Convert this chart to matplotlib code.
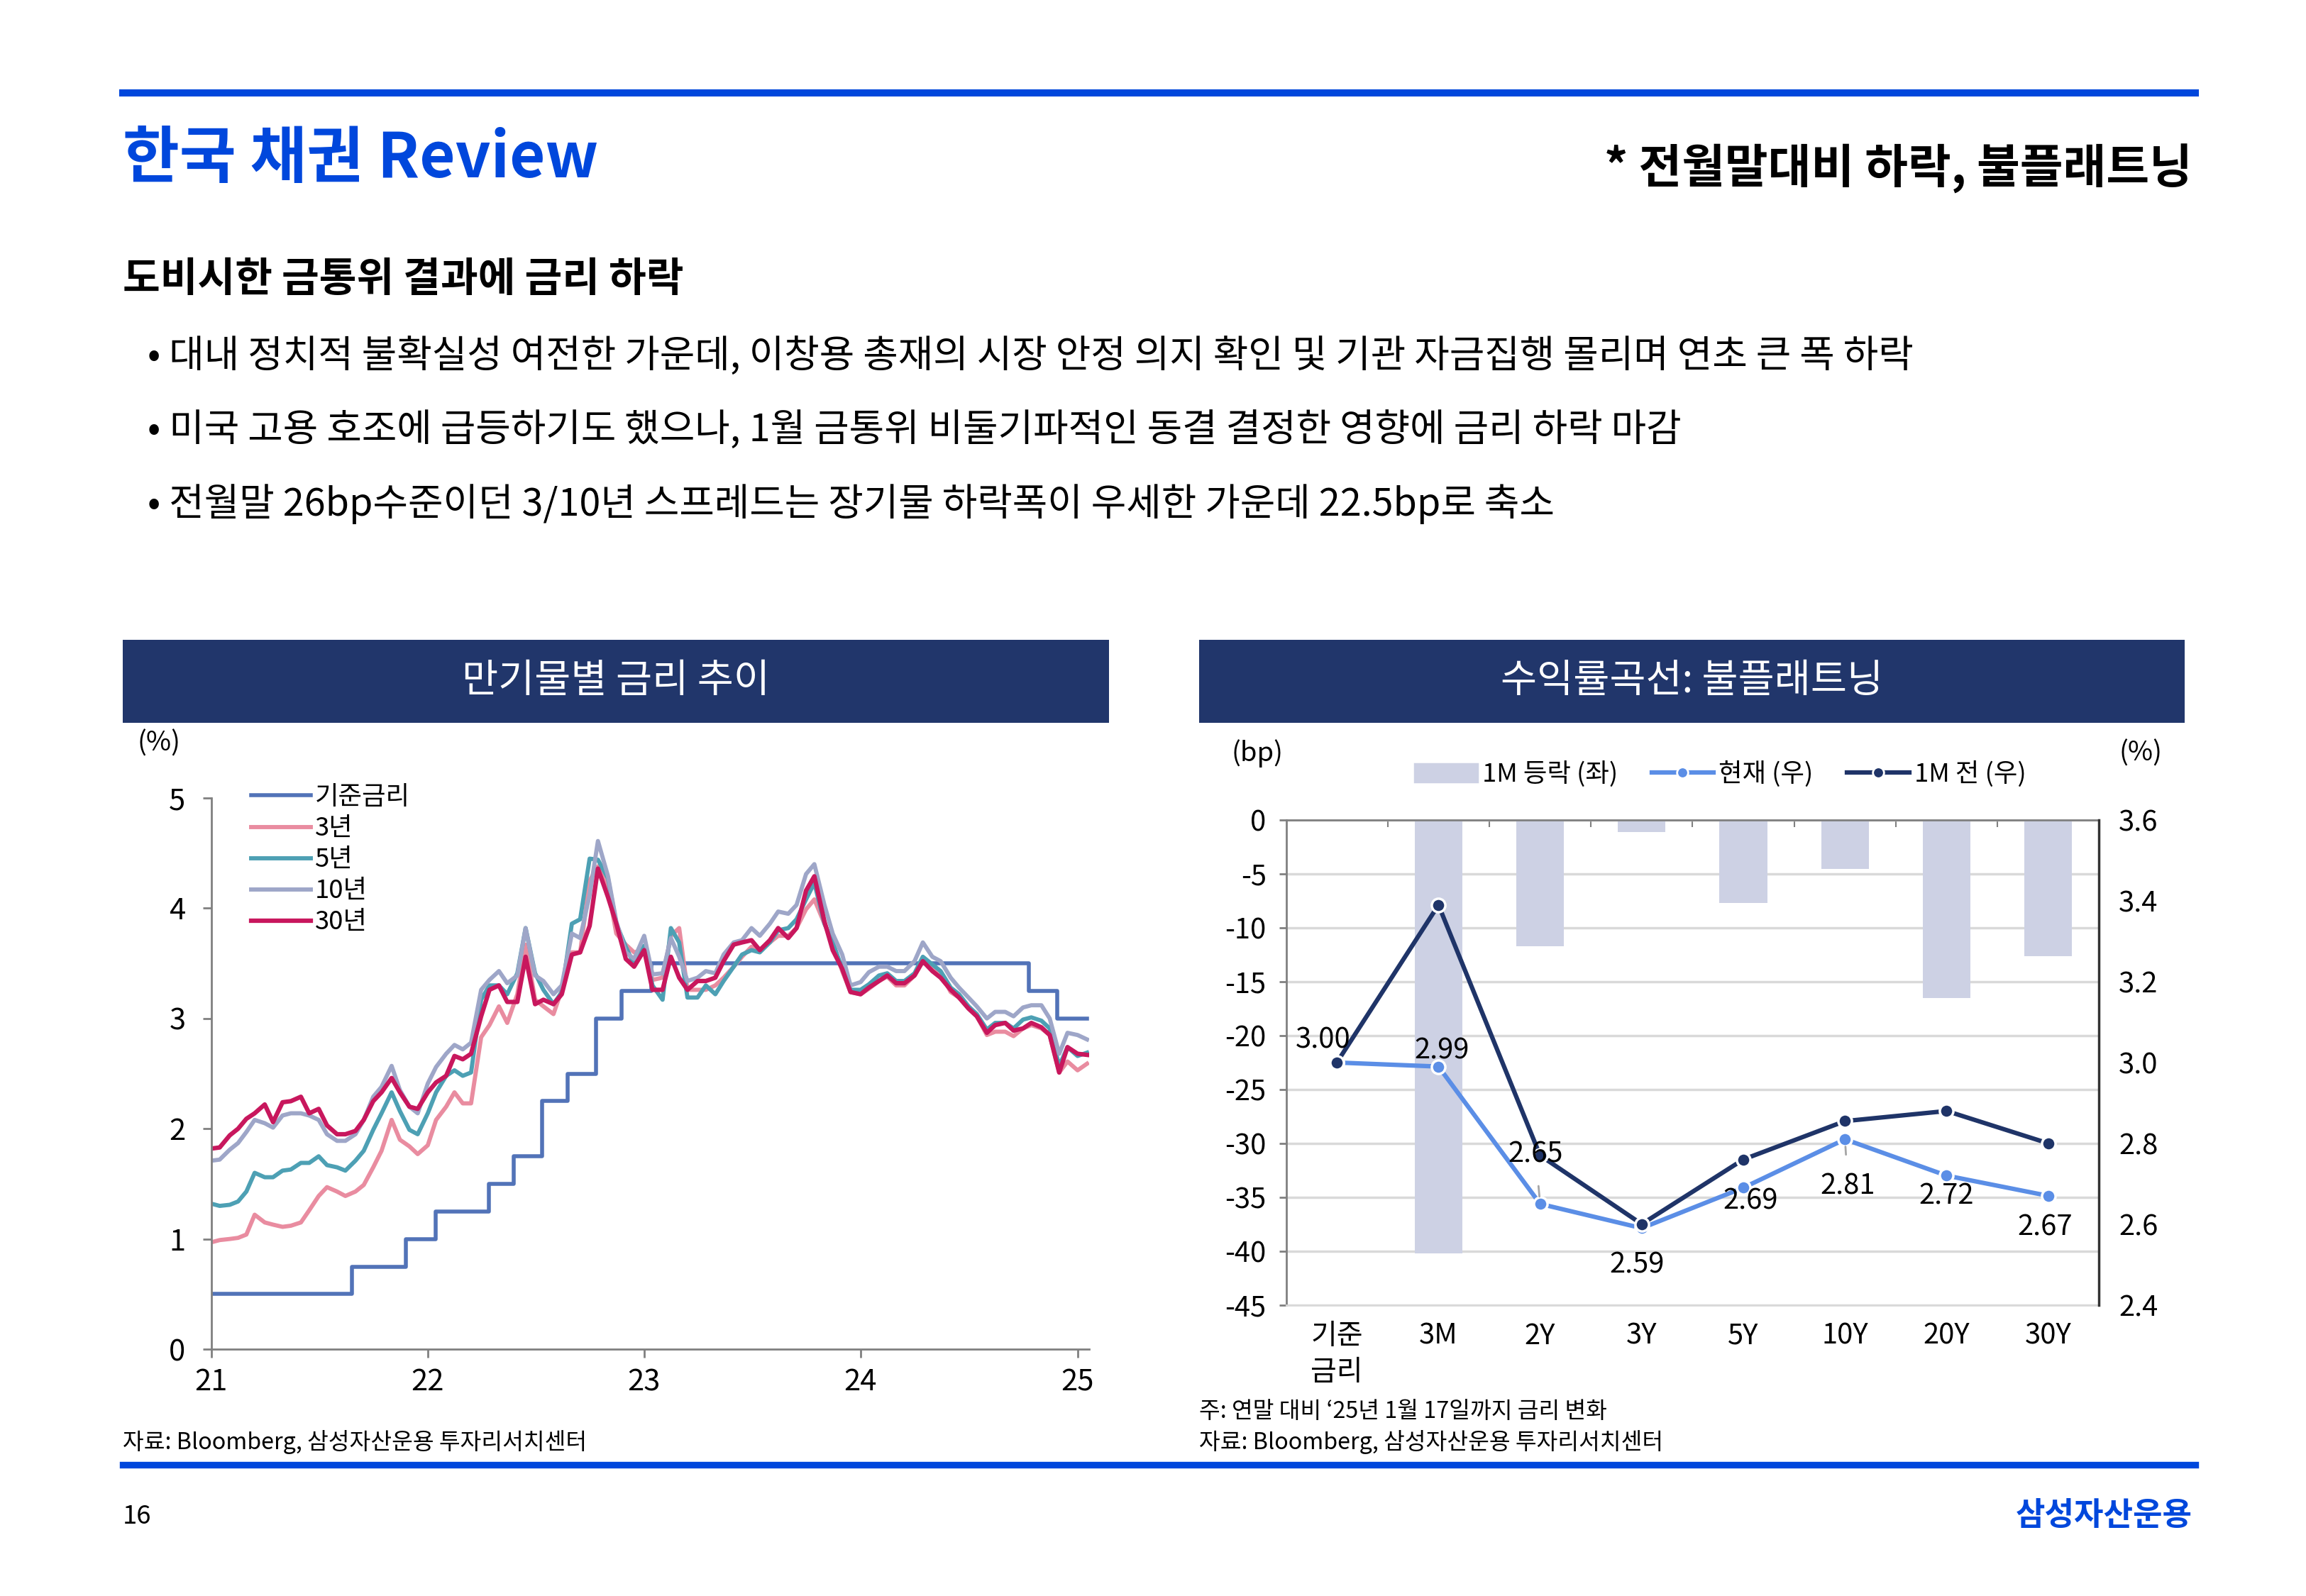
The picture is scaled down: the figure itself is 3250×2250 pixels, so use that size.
import numpy as np
import pandas as pd
import matplotlib
matplotlib.use("Agg")
import matplotlib.pyplot as plt
import matplotlib.dates as mdates
from matplotlib.lines import Line2D
from matplotlib.patches import Patch, Rectangle

plt.rcParams['font.family'] = ['Noto Sans CJK KR', 'DejaVu Sans']
plt.rcParams['axes.unicode_minus'] = False

# ---------------- data : left chart (semi-monthly readings) ----------------
dates = list(pd.date_range('2021-01-01', '2025-01-01', freq='SMS')) + [pd.Timestamp('2025-01-17')]

ktb3 = [0.97, 0.99, 1.00, 1.01, 1.04, 1.22, 1.15, 1.13, 1.11, 1.12, 1.15, 1.26,
        1.39, 1.47, 1.43, 1.39, 1.43, 1.49, 1.65, 1.80, 2.08, 1.90, 1.84, 1.77,
        1.85, 2.08, 2.20, 2.33, 2.23, 2.23, 2.83, 2.94, 3.11, 2.96, 3.22, 3.67,
        3.17, 3.11, 3.04, 3.26, 3.60, 3.60, 4.25, 4.38, 4.18, 3.77, 3.67, 3.60,
        3.62, 3.35, 3.37, 3.75, 3.82, 3.26, 3.26, 3.26, 3.30, 3.37, 3.47, 3.56,
        3.65, 3.62, 3.69, 3.75, 3.75, 3.82, 3.99, 4.08, 3.86, 3.69, 3.43, 3.24,
        3.22, 3.27, 3.34, 3.38, 3.30, 3.30, 3.39, 3.52, 3.45, 3.41, 3.24, 3.19,
        3.11, 3.02, 2.85, 2.88, 2.88, 2.84, 2.91, 2.94, 2.91, 2.85, 2.51, 2.61,
        2.53, 2.59]
ktb5 = [1.32, 1.30, 1.31, 1.34, 1.43, 1.60, 1.56, 1.56, 1.62, 1.63, 1.69, 1.69,
        1.75, 1.67, 1.65, 1.62, 1.71, 1.80, 1.99, 2.14, 2.33, 2.16, 1.99, 1.95,
        2.14, 2.33, 2.48, 2.53, 2.48, 2.51, 3.17, 3.30, 3.30, 3.22, 3.41, 3.82,
        3.41, 3.26, 3.13, 3.24, 3.86, 3.90, 4.45, 4.44, 4.27, 3.86, 3.65, 3.49,
        3.66, 3.30, 3.17, 3.82, 3.69, 3.19, 3.19, 3.30, 3.22, 3.34, 3.47, 3.58,
        3.62, 3.60, 3.69, 3.80, 3.82, 3.90, 4.08, 4.23, 3.86, 3.69, 3.45, 3.26,
        3.26, 3.31, 3.39, 3.41, 3.34, 3.34, 3.41, 3.56, 3.49, 3.43, 3.28, 3.22,
        3.11, 3.04, 2.90, 2.96, 2.96, 2.91, 2.99, 3.01, 2.98, 2.91, 2.57, 2.74,
        2.66, 2.69]
ktb10 = [1.71, 1.72, 1.81, 1.87, 1.97, 2.08, 2.05, 2.01, 2.12, 2.14, 2.14, 2.12,
         2.08, 1.95, 1.89, 1.89, 1.95, 2.08, 2.29, 2.38, 2.57, 2.35, 2.20, 2.14,
         2.41, 2.56, 2.68, 2.76, 2.72, 2.78, 3.26, 3.35, 3.43, 3.32, 3.39, 3.82,
         3.39, 3.34, 3.22, 3.30, 3.77, 3.73, 4.12, 4.61, 4.29, 3.88, 3.60, 3.54,
         3.75, 3.40, 3.41, 3.73, 3.56, 3.34, 3.37, 3.43, 3.41, 3.58, 3.69, 3.71,
         3.82, 3.75, 3.86, 3.97, 3.95, 4.03, 4.31, 4.40, 4.03, 3.77, 3.58, 3.30,
         3.33, 3.42, 3.47, 3.47, 3.43, 3.43, 3.52, 3.69, 3.56, 3.52, 3.37, 3.28,
         3.19, 3.11, 3.00, 3.06, 3.06, 3.02, 3.10, 3.12, 3.12, 3.00, 2.68, 2.87,
         2.85, 2.81]
ktb30 = [1.82, 1.83, 1.94, 2.00, 2.09, 2.14, 2.22, 2.06, 2.24, 2.25, 2.29, 2.14,
         2.18, 2.03, 1.95, 1.95, 1.98, 2.08, 2.25, 2.33, 2.46, 2.33, 2.20, 2.18,
         2.33, 2.42, 2.48, 2.66, 2.63, 2.68, 3.02, 3.26, 3.30, 3.15, 3.15, 3.56,
         3.13, 3.17, 3.13, 3.22, 3.58, 3.60, 3.84, 4.36, 4.10, 3.86, 3.54, 3.47,
         3.62, 3.26, 3.26, 3.56, 3.37, 3.26, 3.34, 3.34, 3.37, 3.52, 3.67, 3.69,
         3.71, 3.62, 3.71, 3.82, 3.73, 3.82, 4.16, 4.29, 3.88, 3.62, 3.45, 3.24,
         3.22, 3.28, 3.34, 3.39, 3.32, 3.32, 3.39, 3.52, 3.43, 3.37, 3.26, 3.19,
         3.09, 3.02, 2.87, 2.94, 2.96, 2.89, 2.91, 2.96, 2.92, 2.85, 2.51, 2.74,
         2.68, 2.67]

base_dates = pd.to_datetime(['2021-01-01', '2021-08-26', '2021-11-25', '2022-01-14', '2022-04-14',
                             '2022-05-26', '2022-07-13', '2022-08-25', '2022-10-12', '2022-11-24',
                             '2023-01-13', '2024-10-11', '2024-11-28', '2025-01-17'])
base_rate = [0.50, 0.75, 1.00, 1.25, 1.50, 1.75, 2.25, 2.50, 3.00, 3.25, 3.50, 3.25, 3.00, 3.00]

# ---------------- data : right chart ----------------
tenors = ['기준\n금리', '3M', '2Y', '3Y', '5Y', '10Y', '20Y', '30Y']
chg_1m = [0, -40.2, -11.7, -1.1, -7.7, -4.5, -16.5, -12.6]
now = [3.00, 2.99, 2.65, 2.59, 2.69, 2.81, 2.72, 2.67]
prev = [3.00, 3.39, 2.77, 2.60, 2.76, 2.855, 2.88, 2.80]

BLUE = '#0047dc'
NAVY = '#21366b'

W, H = 1560, 1080
def fx(x):
    return x / W
def fy(y):
    return 1 - y / H

fig = plt.figure(figsize=(13, 9), dpi=250)

# ---------------- page header ----------------
fig.add_artist(Line2D([fx(83), fx(1485)], [fy(63), fy(63)], color=BLUE, lw=2.9, transform=fig.transFigure))
fig.text(fx(83), fy(108), '한국 채권 Review', color=BLUE, fontsize=25, fontweight='bold', va='center', ha='left')
fig.text(fx(1483), fy(114), '* 전월말대비 하락, 불플래트닝', color='black', fontsize=19, fontweight='bold',
         va='center', ha='right')
fig.text(fx(83), fy(189), '도비시한 금통위 결과에 금리 하락', fontsize=16.5, fontweight='bold', va='center')
bullets = ['• 대내 정치적 불확실성 여전한 가운데, 이창용 총재의 시장 안정 의지 확인 및 기관 자금집행 몰리며 연초 큰 폭 하락',
           '• 미국 고용 호조에 급등하기도 했으나, 1월 금통위 비둘기파적인 동결 결정한 영향에 금리 하락 마감',
           '• 전월말 26bp수준이던 3/10년 스프레드는 장기물 하락폭이 우세한 가운데 22.5bp로 축소']
for i, b in enumerate(bullets):
    fig.text(fx(100), fy(241 + 50 * i), b, fontsize=15.5, fontweight='medium', va='center')

# panel headers
for x0, x1, title in [(83, 750, '만기물별 금리 추이'), (811, 1478, '수익률곡선: 불플래트닝')]:
    fig.add_artist(Rectangle((fx(x0), fy(489)), fx(x1) - fx(x0), (489 - 433) / H,
                             transform=fig.transFigure, color=NAVY, lw=0))
    fig.text(fx((x0 + x1) / 2), fy(461), title, color='white', fontsize=16, ha='center', va='center')

# ---------------- left chart ----------------
ax1 = fig.add_axes([fx(143), fy(913), (736.6 - 143) / W, (913 - 540) / H])
ax1.plot(base_dates, base_rate, drawstyle='steps-post', color='#5273b8', lw=1.6, label='기준금리')
ax1.plot(dates, ktb3, color='#e98ca0', lw=1.7, label='3년')
ax1.plot(dates, ktb5, color='#4da0b4', lw=1.7, label='5년')
ax1.plot(dates, ktb10, color='#9ea6c8', lw=1.7, label='10년')
ax1.plot(dates, ktb30, color='#c8175d', lw=1.8, label='30년')
ax1.set_xlim(pd.Timestamp('2021-01-01'), pd.Timestamp('2025-01-20'))
ax1.set_ylim(0, 5)
ax1.set_yticks(range(0, 6))
ax1.xaxis.set_major_locator(mdates.YearLocator())
ax1.xaxis.set_major_formatter(mdates.DateFormatter('%y'))
for s in ['top', 'right']:
    ax1.spines[s].set_visible(False)
for s in ['left', 'bottom']:
    ax1.spines[s].set_color('#808080')
    ax1.spines[s].set_linewidth(0.8)
ax1.tick_params(axis='y', length=3.5, width=0.8, color='#808080', labelsize=12, pad=7)
ax1.tick_params(axis='x', length=3.5, width=0.8, color='#808080', labelsize=12, pad=4)
ax1.legend(loc='upper left', bbox_to_anchor=(fx(170), fy(531)), bbox_transform=fig.transFigure,
           frameon=False, fontsize=10.5, handlelength=2.3, handletextpad=0.15, labelspacing=0.22,
           borderpad=0, borderaxespad=0)
fig.text(fx(93), fy(503), '(%)', fontsize=11, va='center')
fig.text(fx(83), fy(976), '자료: Bloomberg, 삼성자산운용 투자리서치센터', fontsize=9.3, va='center')

# ---------------- right chart ----------------
ax2 = fig.add_axes([fx(870), fy(883), (1420 - 870) / W, (883 - 555) / H])
x = np.arange(len(tenors))
ax2.bar(x, chg_1m, width=0.47, color='#cdd1e4', zorder=2)
ax2.set_xlim(-0.5, 7.5)
ax2.set_ylim(-45, 0)
ax2.set_yticks(range(-45, 1, 5))
ax2.yaxis.grid(True, color='#d9d9d9', lw=1.0)
ax2.set_axisbelow(True)
ax2.set_xticks(x)
ax2.set_xticklabels(tenors, fontsize=11.5, linespacing=1.35, va='top')
ax2.set_xticks(x[:-1] + 0.5, minor=True)
ax2.tick_params(axis='x', which='major', length=0, pad=7)
ax2.tick_params(axis='x', which='minor', bottom=False, top=True, direction='in', length=3, color='#808080')
ax2.tick_params(axis='y', length=3, width=0.8, color='#808080', labelsize=11.5, pad=5)
ax2.spines['top'].set_color('#808080')
ax2.spines['left'].set_color('#808080')
ax2.spines['bottom'].set_color('#d9d9d9')
ax2.spines['right'].set_visible(False)

axr = ax2.twinx()
axr.set_ylim(2.4, 3.6)
axr.set_yticks(np.arange(2.4, 3.61, 0.2))
axr.set_yticklabels([f'{v:.1f}' for v in np.arange(2.4, 3.61, 0.2)])
axr.tick_params(axis='y', length=0, labelsize=11.5, pad=8)
for s in ['top', 'left', 'bottom']:
    axr.spines[s].set_visible(False)
axr.spines['right'].set_color('#333333')
axr.spines['right'].set_linewidth(1.0)
axr.plot(x, now, color='#5b8ee6', lw=1.8, marker='o', ms=5.5, mec='white', mew=1.0, zorder=3)
axr.plot(x, prev, color='#1f3468', lw=1.8, marker='o', ms=5.5, mec='white', mew=1.0, zorder=4)

label_offsets = [(-5.5, 9), (1.5, 6.5), (-1.8, 20), (-1.8, -15), (3, -5.5), (1.2, -19), (0, -8.5), (-1.2, -13)]
for i, (v, off) in enumerate(zip(now, label_offsets)):
    arrow = None
    if i in (2, 5):
        arrow = dict(arrowstyle='-', color='#a6a6a6', lw=0.8, shrinkA=5, shrinkB=3)
    axr.annotate(f'{v:.2f}', (x[i], v), xytext=off, textcoords='offset points', ha='center', va='center',
                 fontsize=11.5, arrowprops=arrow, zorder=5)

handles = [Patch(color='#cdd1e4'),
           Line2D([], [], color='#5b8ee6', lw=1.8, marker='o', ms=4.5, mec='white', mew=0.8),
           Line2D([], [], color='#1f3468', lw=1.8, marker='o', ms=4.5, mec='white', mew=0.8)]
fig.legend(handles, ['1M 등락 (좌)', '현재 (우)', '1M 전 (우)'], loc='center', bbox_to_anchor=(fx(1164), fy(524)),
           ncol=3, frameon=False, fontsize=10.5, handlelength=2.4, handletextpad=0.2, columnspacing=1.3)
fig.text(fx(833), fy(510), '(bp)', fontsize=11, va='center')
fig.text(fx(1463), fy(510), '(%)', fontsize=11, va='center', ha='right')
fig.text(fx(811), fy(955), '주: 연말 대비 ‘25년 1월 17일까지 금리 변화', fontsize=9.3, va='center')
fig.text(fx(811), fy(976), '자료: Bloomberg, 삼성자산운용 투자리서치센터', fontsize=9.3, va='center')

# ---------------- footer ----------------
fig.add_artist(Line2D([fx(83), fx(1485)], [fy(991), fy(991)], color=BLUE, lw=2.7, transform=fig.transFigure))
fig.text(fx(83), fy(1026), '16', fontsize=10.5, va='center')
fig.text(fx(1483), fy(1026), '삼성자산운용', color=BLUE, fontsize=13, fontweight='bold', va='center', ha='right')

fig.savefig('out.png', dpi=250)
